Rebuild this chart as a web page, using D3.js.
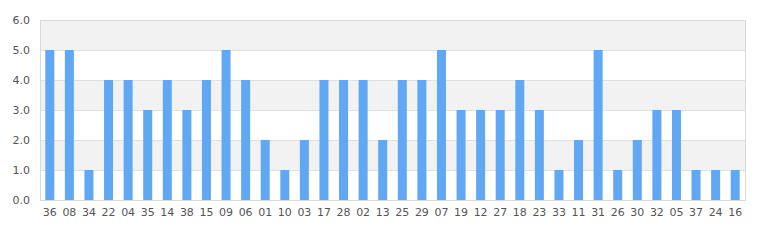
<!DOCTYPE html>
<html lang="en">
  <head>
    <meta charset="utf-8" />
    <title></title>
    <style>
      body { margin: 0; background: #fff; }
      text { font-family: "DejaVu Sans", sans-serif; }
    </style>
  </head>
  <body>
    <script src="https://d3js.org/d3.v7.min.js"></script>
    <div id="my_dataviz"></div>
    <script>
      // categories and values
      const categories = ["36", "08", "34", "22", "04", "35", "14", "38", "15", "09", "06", "01",
        "10", "03", "17", "28", "02", "13", "25", "29", "07", "19", "12", "27",
        "18", "23", "33", "11", "31", "26", "30", "32", "05", "37", "24", "16"];
      const values = [5, 5, 1, 4, 4, 3, 4, 3, 4, 5, 4, 2,
        1, 2, 4, 4, 4, 2, 4, 4, 5, 3, 3, 3,
        4, 3, 1, 2, 5, 1, 2, 3, 3, 1, 1, 1];
      const yTicks = [0, 1, 2, 3, 4, 5, 6];

      const margin = { top: 20, right: 30, bottom: 40, left: 40 },
        width = 775 - margin.left - margin.right,
        height = 240 - margin.top - margin.bottom;

      const svg = d3
        .select("#my_dataviz")
        .append("svg")
        .attr("width", 775)
        .attr("height", 240)
        .append("g")
        .attr("transform", `translate(${margin.left},${margin.top})`);

      const x = d3
        .scaleBand()
        .domain(categories)
        .range([0, width])
        .paddingInner(0.54)
        .paddingOuter(0.27);
      const y = d3.scaleLinear().domain([0, 6]).range([height, 0]);

      // alternating bands
      svg
        .selectAll(".band")
        .data(yTicks.slice(0, -1))
        .join("rect")
        .attr("x", 0)
        .attr("width", width)
        .attr("y", d => y(d + 1))
        .attr("height", d => y(d) - y(d + 1))
        .attr("fill", d => (d % 2 === 1 ? "#f2f2f2" : "#ffffff"));

      // grid lines
      svg
        .selectAll(".grid")
        .data(yTicks)
        .join("line")
        .attr("x1", 0)
        .attr("x2", width)
        .attr("y1", d => y(d) + 0.5)
        .attr("y2", d => y(d) + 0.5)
        .attr("stroke", "#e0e0e0");

      // bars
      svg
        .selectAll(".bar")
        .data(values)
        .join("rect")
        .attr("x", (d, i) => x(categories[i]))
        .attr("width", x.bandwidth())
        .attr("y", d => y(d))
        .attr("height", d => y(0) - y(d))
        .attr("fill", "#60a8f4");

      // frame
      svg
        .append("rect")
        .attr("x", 0.5)
        .attr("y", 0.5)
        .attr("width", width)
        .attr("height", height)
        .attr("fill", "none")
        .attr("stroke", "#d9d9d9");

      // y axis
      const yAxis = svg
        .append("g")
        .call(d3.axisLeft(y).tickValues(yTicks).tickFormat(d3.format(".1f")).tickSize(0).tickPadding(10));
      yAxis.select(".domain").remove();
      yAxis.selectAll("text").attr("fill", "#555").attr("font-size", 11);

      // x axis
      const xAxis = svg
        .append("g")
        .attr("transform", `translate(0,${height})`)
        .call(d3.axisBottom(x).tickSize(0).tickPadding(8));
      xAxis.select(".domain").remove();
      xAxis.selectAll("text").attr("fill", "#555").attr("font-size", 11);
    </script>
  </body>
</html>
